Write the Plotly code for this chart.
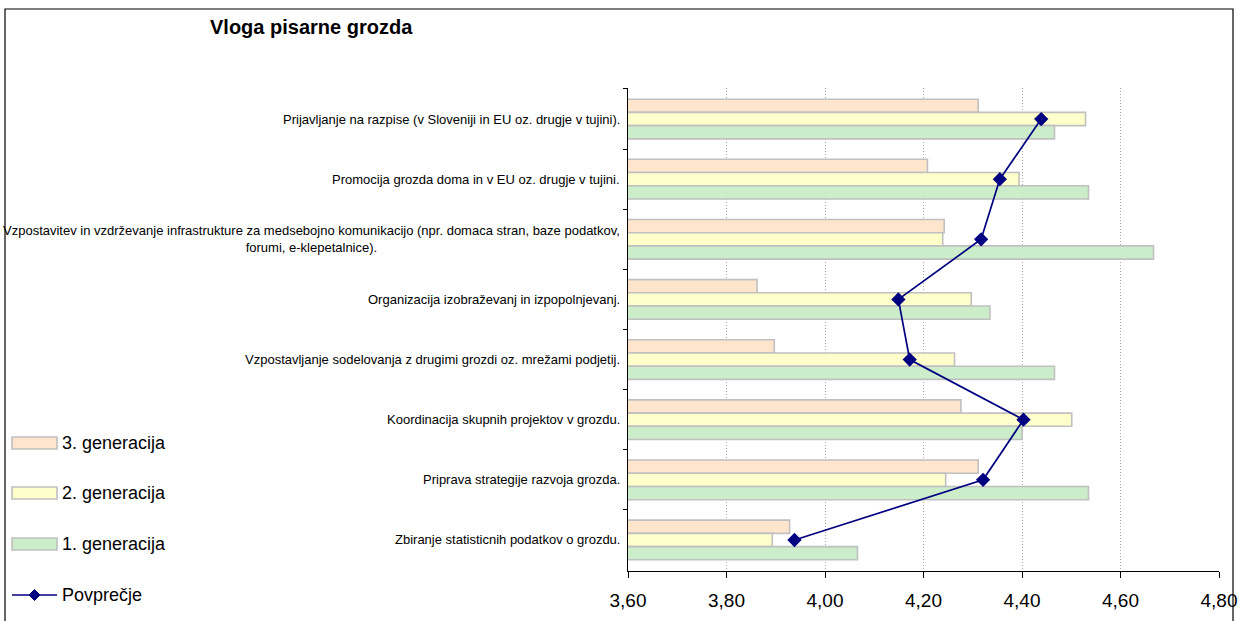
import plotly.graph_objects as go

# Survey results: role of the cluster office, mean grade per task and generation
categories = [
    "Prijavljanje na razpise (v Sloveniji in EU oz. drugje v tujini).",
    "Promocija grozda doma in v EU oz. drugje v tujini.",
    "Vzpostavitev in vzdrževanje infrastrukture za medsebojno komunikacijo (npr. domaca stran, baze podatkov,<br>forumi, e-klepetalnice).",
    "Organizacija izobraževanj in izpopolnjevanj.",
    "Vzpostavljanje sodelovanja z drugimi grozdi oz. mrežami podjetij.",
    "Koordinacija skupnih projektov v grozdu.",
    "Priprava strategije razvoja grozda.",
    "Zbiranje statisticnih podatkov o grozdu.",
]
gen3 = [4.311, 4.208, 4.242, 3.862, 3.897, 4.276, 4.311, 3.928]
gen2 = [4.529, 4.394, 4.239, 4.297, 4.263, 4.501, 4.245, 3.893]
gen1 = [4.466, 4.535, 4.667, 4.335, 4.466, 4.400, 4.535, 4.066]
average = [4.439, 4.355, 4.317, 4.149, 4.172, 4.403, 4.321, 3.938]

series_names = ["3. generacija", "2. generacija", "1. generacija"]
series_values = [gen3, gen2, gen1]
series_colors = ["#ffe5cc", "#ffffcc", "#cbedc9"]
avg_name = "Povprečje"
avg_color = "#000080"

x_ticks = [3.6, 3.8, 4.0, 4.2, 4.4, 4.6, 4.8]

W, H = 1242, 621
L, R, T, B = 628, 1219, 88, 571
FONT = "Liberation Sans, Arial, sans-serif"


def px(x):
    return (x - L) / (R - L)


def py(y):
    return (B - y) / (B - T)


fig = go.Figure()
for name, vals, col in zip(series_names, series_values, series_colors):
    fig.add_trace(go.Bar(
        y=categories, x=vals, name=name, orientation="h",
        marker=dict(color=col, line=dict(color="#c0c0c0", width=1.6)),
        showlegend=False,
    ))
fig.add_trace(go.Scatter(
    y=categories, x=average, name=avg_name, mode="lines+markers",
    line=dict(color=avg_color, width=1.7),
    marker=dict(symbol="diamond", size=11, color=avg_color),
    showlegend=False,
))

annotations = []
shapes = []

# category labels to the left of the axis
for cat in categories:
    annotations.append(dict(
        x=0, xref="paper", y=cat, yref="y", xanchor="right", yanchor="middle",
        xshift=-6, text=cat, showarrow=False, align="center",
        font=dict(family=FONT, size=13, color="#000"),
    ))

# title
annotations.append(dict(
    x=px(311), y=py(27), xref="paper", yref="paper", xanchor="center", yanchor="middle",
    text="<b>Vloga pisarne grozda</b>", showarrow=False,
    font=dict(family=FONT, size=20, color="#000"),
))

# legend drawn at the left side
legend_y = [443, 493, 544]
for name, col, ly in zip(series_names, series_colors, legend_y):
    shapes.append(dict(
        type="rect", xref="paper", yref="paper",
        x0=px(12), x1=px(57), y0=py(ly + 6), y1=py(ly - 6),
        fillcolor=col, line=dict(color="#c0c0c0", width=1.6),
    ))
    annotations.append(dict(
        x=px(60), y=py(ly), xref="paper", yref="paper", xanchor="left", yanchor="middle",
        text=name, showarrow=False, font=dict(family=FONT, size=18, color="#000"),
    ))
ly = 595
shapes.append(dict(
    type="line", xref="paper", yref="paper",
    x0=px(12), x1=px(57), y0=py(ly), y1=py(ly),
    line=dict(color=avg_color, width=1.7),
))
cx, d = 34.5, 5.5
shapes.append(dict(
    type="path", xref="paper", yref="paper",
    path=(f"M {px(cx - d)} {py(ly)} L {px(cx)} {py(ly - d)} "
          f"L {px(cx + d)} {py(ly)} L {px(cx)} {py(ly + d)} Z"),
    fillcolor=avg_color, line=dict(color=avg_color, width=1),
))
annotations.append(dict(
    x=px(60), y=py(ly), xref="paper", yref="paper", xanchor="left", yanchor="middle",
    text=avg_name, showarrow=False, font=dict(family=FONT, size=18, color="#000"),
))

# outer frame
shapes.append(dict(
    type="rect", xref="paper", yref="paper",
    x0=px(5), x1=px(1233), y0=py(640), y1=py(9),
    line=dict(color="#000", width=1.2), fillcolor="rgba(0,0,0,0)", layer="below",
))

fig.update_layout(
    width=W, height=H,
    margin=dict(l=L, r=W - R, t=T, b=H - B, autoexpand=False),
    paper_bgcolor="white", plot_bgcolor="white",
    barmode="group", bargap=0.34, bargroupgap=0,
    separators=", ",
    showlegend=False,
    annotations=annotations, shapes=shapes,
    font=dict(family=FONT, color="#000"),
)
fig.update_xaxes(
    range=[3.6, 4.8], tickvals=x_ticks, tickformat=".2f",
    showgrid=True, gridcolor="#a8a8a8", griddash="1px,2px", gridwidth=1,
    showline=True, linecolor="#000", linewidth=1.2,
    ticks="outside", ticklen=6, tickcolor="#000", tickwidth=1.2,
    ticklabelstandoff=6,
    tickfont=dict(family=FONT, size=19, color="#000"),
    zeroline=False, fixedrange=True,
)
fig.update_yaxes(
    autorange="reversed", showticklabels=False,
    showline=True, linecolor="#000", linewidth=1.2,
    ticks="outside", ticklen=4, tickcolor="#000", tickson="boundaries",
    showgrid=False, zeroline=False, fixedrange=True,
)

fig.write_html("out.html")
